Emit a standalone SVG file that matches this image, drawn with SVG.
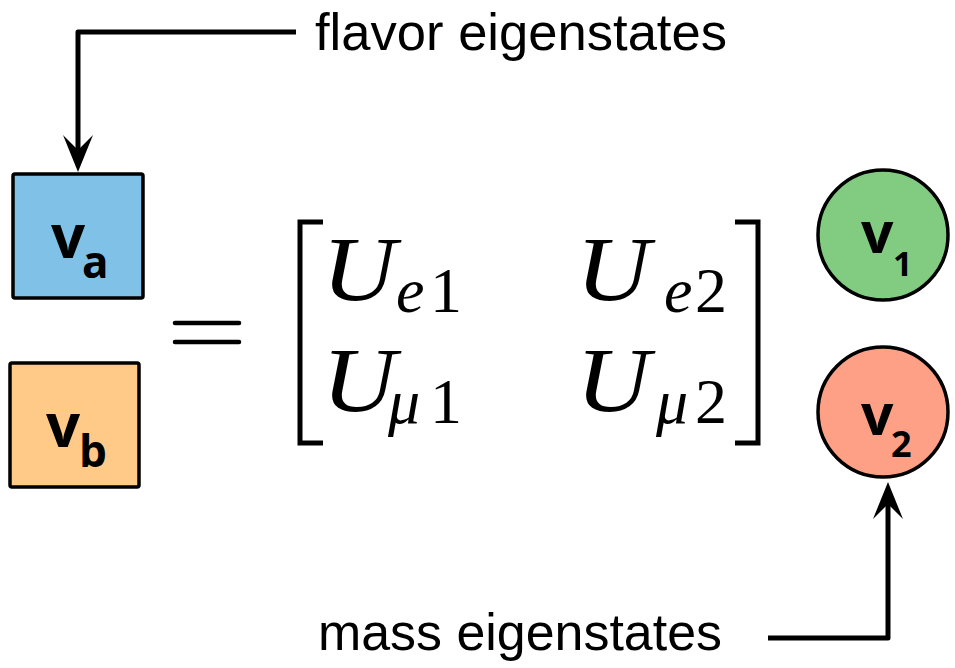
<svg xmlns="http://www.w3.org/2000/svg" width="955" height="668" viewBox="0 0 955 668">
<defs>
<style>
.box{stroke:#000;stroke-width:3.5}
.lbl{font-family:"Open Sans","DejaVu Sans",sans-serif;font-weight:700;fill:#000}
.cap{font-family:"Liberation Sans",Arial,sans-serif;font-size:52px;fill:#000}
.m{font-family:"Liberation Serif","Times New Roman",serif;fill:#000}
.mi{font-style:italic}
.conn{fill:none;stroke:#000;stroke-width:5;stroke-linejoin:round}
.br{fill:none;stroke:#000;stroke-width:5}
</style>
<marker id="arr" viewBox="0 -16 40 32" markerWidth="40" markerHeight="32" refX="15" refY="0" orient="auto" markerUnits="userSpaceOnUse">
<path d="M37,0 L0,-15 L15,0 L0,15 Z" fill="#000"/>
</marker>
</defs>
<rect width="955" height="668" fill="#fff"/>

<g id="va">
<rect class="box" x="13" y="174" width="130" height="124" rx="2" fill="#7FC1E7"/>
<text class="lbl" x="51" y="258" font-size="60">v</text>
<text class="lbl" x="82" y="278" font-size="44">a</text>
</g>
<g id="vb">
<rect class="box" x="10" y="363" width="129" height="124" rx="2" fill="#FFC987"/>
<text class="lbl" x="46" y="447" font-size="60">v</text>
<text class="lbl" x="79" y="467" font-size="44">b</text>
</g>
<g id="v1">
<circle class="box" cx="883" cy="235" r="65" fill="#81CC81"/>
<text class="lbl" x="861" y="253" font-size="57">v</text>
<text class="lbl" x="893" y="276" font-size="34">1</text>
</g>
<g id="v2">
<circle class="box" cx="883" cy="412" r="65" fill="#FDA086"/>
<text class="lbl" x="861" y="435" font-size="57">v</text>
<text class="lbl" x="891" y="457" font-size="36">2</text>
</g>

<g id="matrix">
<line x1="175" y1="323" x2="239" y2="323" stroke="#000" stroke-width="4.5" stroke-linecap="round"/>
<line x1="175" y1="342" x2="239" y2="342" stroke="#000" stroke-width="4.5" stroke-linecap="round"/>
<path class="br" d="M323,222 H300 V443 H323"/>
<path class="br" d="M735,222 H758 V443 H735"/>
<text class="m mi" x="322" y="300" font-size="92" textLength="74" lengthAdjust="spacingAndGlyphs">U</text>
<text class="m mi" x="396" y="312" font-size="64">e</text>
<text class="m" x="430" y="312" font-size="64">1</text>
<text class="m mi" x="576" y="300" font-size="92" textLength="74" lengthAdjust="spacingAndGlyphs">U</text>
<text class="m mi" x="664" y="312" font-size="64">e</text>
<text class="m" x="695" y="312" font-size="64">2</text>
<text class="m mi" x="322" y="411" font-size="92" textLength="74" lengthAdjust="spacingAndGlyphs">U</text>
<text class="m mi" x="388" y="423" font-size="64">μ</text>
<text class="m" x="430" y="423" font-size="64">1</text>
<text class="m mi" x="576" y="411" font-size="92" textLength="74" lengthAdjust="spacingAndGlyphs">U</text>
<text class="m mi" x="656" y="423" font-size="64">μ</text>
<text class="m" x="695" y="423" font-size="64">2</text>
</g>

<g id="flavor-label">
<text class="cap" x="315" y="50" textLength="412" lengthAdjust="spacingAndGlyphs">flavor eigenstates</text>
</g>
<g id="mass-label">
<text class="cap" x="318" y="650" textLength="404" lengthAdjust="spacingAndGlyphs">mass eigenstates</text>
</g>

<g id="connectors">
<path class="conn" d="M296,32 H78 V150" marker-end="url(#arr)"/>
<path class="conn" d="M768,638 H888 V504" marker-end="url(#arr)"/>
</g>
</svg>
